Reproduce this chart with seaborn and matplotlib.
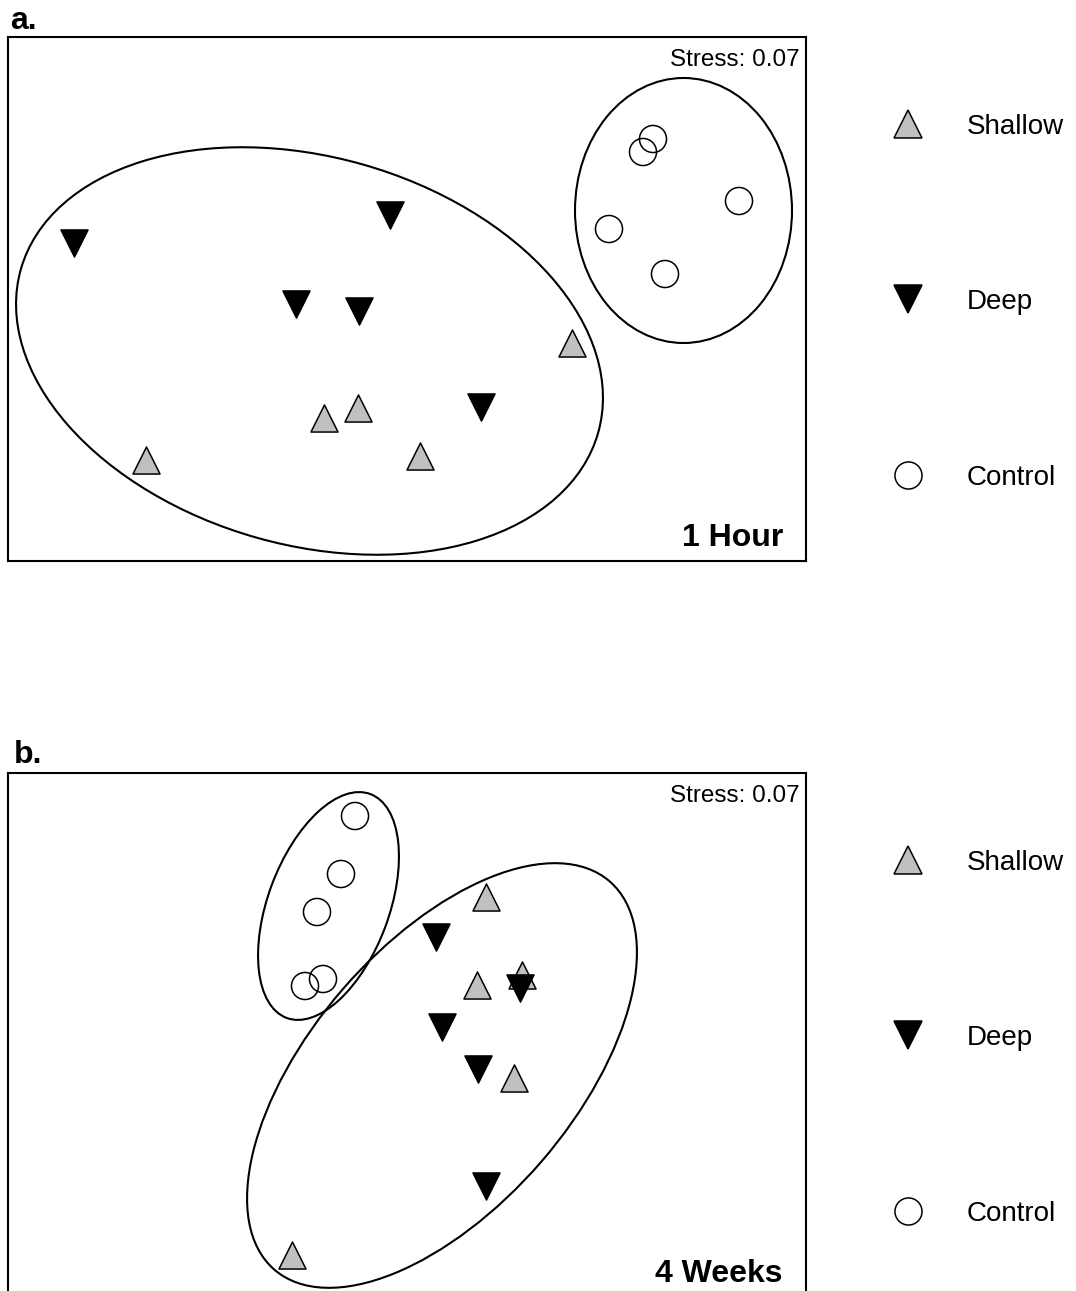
import numpy as np
import matplotlib
matplotlib.use("Agg")
import matplotlib.pyplot as plt
from matplotlib.patches import Ellipse
from matplotlib.lines import Line2D
import seaborn as sns

sns.set_style("white")
plt.rcParams['font.family'] = ['Liberation Sans', 'DejaVu Sans']
plt.rcParams['text.color'] = 'black'

# ordination scores (both axes in the same units)
groups = ["Shallow", "Deep", "Control"]

# panel a - 1 hour
a_shallow_x = [138, 316, 350, 412, 564]
a_shallow_y = [101, 143, 153, 105, 218]
a_deep_x = [66, 382, 288, 351, 473]
a_deep_y = [318, 346, 257, 250, 154]
a_control_x = [645, 635, 731, 601, 657]
a_control_y = [422, 409, 360, 332, 287]

# panel b - 4 weeks
b_shallow_x = [478, 469, 514, 506, 284]
b_shallow_y = [400, 312, 322, 219, 42]
b_deep_x = [428, 434, 470, 512, 478]
b_deep_y = [360, 270, 228, 309, 111]
b_control_x = [347, 333, 309, 297, 315]
b_control_y = [481, 423, 385, 311, 318]

# group ellipses: centre x, centre y, width, height, angle
a_ellipses = [(301.5, 210, 600, 388, -15.8), (675.5, 350.5, 217, 265, 0)]
b_ellipses = [(434, 221.5, 513, 263, 49.2), (320.5, 391, 239, 121, 69.5)]

stress = ["Stress: 0.07", "Stress: 0.07"]
panel_tags = ["a.", "b."]
times = ["1 Hour", "4 Weeks"]

styles = {
    "Shallow": dict(marker="^", color="#c0c0c0"),
    "Deep": dict(marker="v", color="black"),
    "Control": dict(marker="o", color="none"),
}

W, H = 1076, 1291
fig = plt.figure(figsize=(W / 100, H / 100), dpi=100)


def draw_panel(ax, pts, ells, stress_txt, time_txt):
    for cx, cy, w, h, ang in ells:
        ax.add_patch(Ellipse((cx, cy), w, h, angle=ang, fill=False,
                             ec="black", lw=1.5, zorder=1))
    for g in groups:
        xs, ys = pts[g]
        st = styles[g]
        fc = "white" if st["color"] == "none" else st["color"]
        sns.scatterplot(x=xs, y=ys, ax=ax, marker=st["marker"], color=fc,
                        s=380, edgecolor="black", linewidth=1.1,
                        legend=False, zorder=3)
        if st["color"] == "none":
            ax.collections[-1].set_facecolor("none")
    ax.set_xlim(0, 798)
    ax.set_ylim(0, 524)
    ax.set_xticks([])
    ax.set_yticks([])
    ax.set_xlabel("")
    ax.set_ylabel("")
    for sp in ax.spines.values():
        sp.set_visible(True)
        sp.set_color("black")
        sp.set_linewidth(1.5)
    ax.text(0.9925, 0.977, stress_txt, transform=ax.transAxes,
            ha="right", va="top", fontsize=17.5, color="black")
    ax.text(0.971, 0.028, time_txt, transform=ax.transAxes,
            ha="right", va="baseline", fontsize=23, fontweight="bold",
            color="black")

    handles = []
    for g in groups:
        st = styles[g]
        handles.append(Line2D([], [], ls="none", marker=st["marker"],
                              markersize=19.5, markerfacecolor=st["color"],
                              markeredgecolor="black", markeredgewidth=1.1))
    leg = ax.legend(handles, groups, loc="center left",
                    bbox_to_anchor=(1.1035, 0.494),
                    frameon=False, fontsize=20, borderaxespad=0, borderpad=0,
                    handlelength=1.4, handletextpad=1.42, labelspacing=5.38)
    for t in leg.get_texts():
        t.set_color("black")


ax_a = fig.add_axes([8 / W, 1 - 561 / H, 798 / W, 524 / H])
draw_panel(ax_a,
           {"Shallow": (a_shallow_x, a_shallow_y),
            "Deep": (a_deep_x, a_deep_y),
            "Control": (a_control_x, a_control_y)},
           a_ellipses, stress[0], times[0])

ax_b = fig.add_axes([8 / W, 1 - 1297 / H, 798 / W, 524 / H])
draw_panel(ax_b,
           {"Shallow": (b_shallow_x, b_shallow_y),
            "Deep": (b_deep_x, b_deep_y),
            "Control": (b_control_x, b_control_y)},
           b_ellipses, stress[1], times[1])

fig.text(10 / W, 1 - 29 / H, panel_tags[0], fontsize=23, fontweight="bold",
         ha="left", va="baseline", color="black")
fig.text(14 / W, 1 - 763 / H, panel_tags[1], fontsize=23, fontweight="bold",
         ha="left", va="baseline", color="black")

fig.savefig("out.png", dpi=100)
